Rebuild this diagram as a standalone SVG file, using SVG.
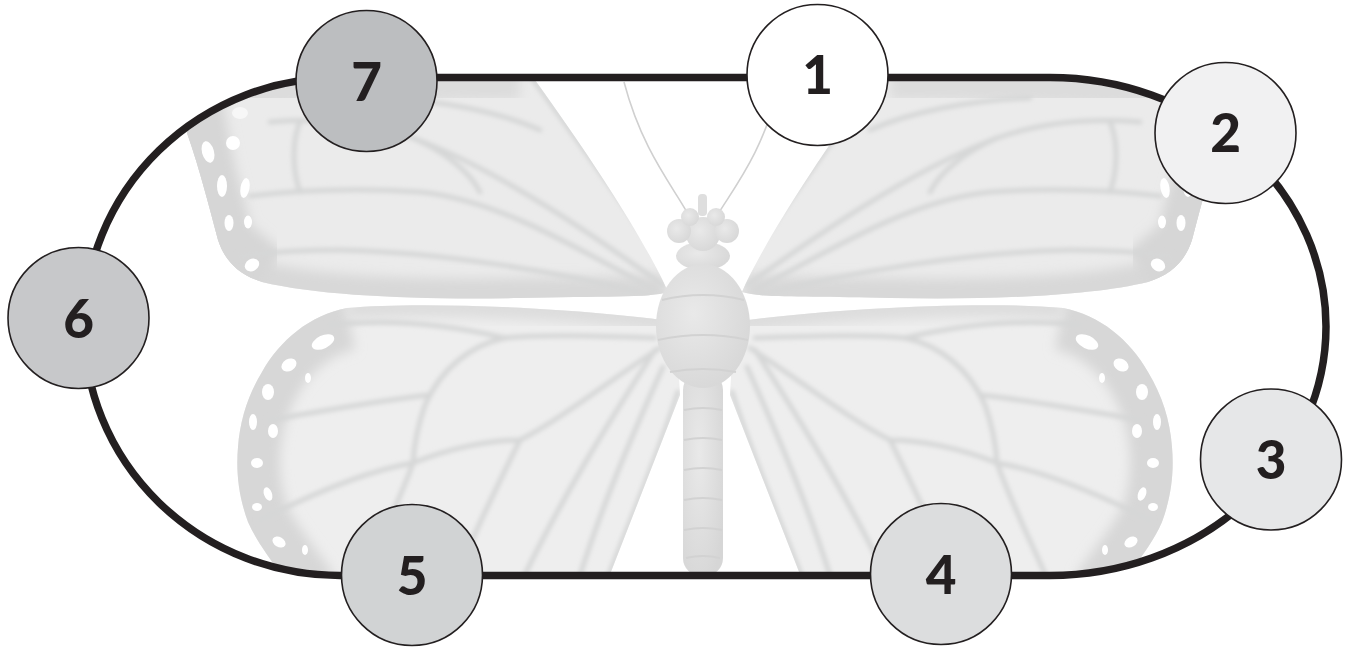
<svg xmlns="http://www.w3.org/2000/svg" width="1351" height="648" viewBox="0 0 1351 648">
<style>
.node circle{stroke:#231f20;stroke-width:1.6}
.node text{font-family:"Lato","Liberation Sans",sans-serif;font-weight:900;font-size:53px;fill:#231f20;text-anchor:middle}
.track{fill:none;stroke:#231f20;stroke-width:7.5}
.vein{fill:none;stroke:#d6d7d7;stroke-width:5;stroke-linecap:round}
.spot{fill:#ffffff}
.bd{fill:#dedede}
</style>
<defs>
<clipPath id="trackClip">
<path d="M340,77.5 H1050 A276,249 0 0 1 1050,575.5 H340 A256,249 0 0 1 340,77.5 Z"/>
</clipPath>
<filter id="soft" x="-10%" y="-10%" width="120%" height="120%"><feGaussianBlur stdDeviation="2"/></filter>
<filter id="softer" x="-20%" y="-20%" width="140%" height="140%"><feGaussianBlur stdDeviation="6"/></filter>
<clipPath id="fwClip"><path d="M668,292 C650,250 600,170 535,80 L520,40 L180,40 L187,133 C200,170 210,210 218,240 C225,262 240,275 262,282 C320,296 420,300 520,298 C600,296 650,298 668,292 Z"/></clipPath>
<clipPath id="hwClip"><path d="M676,322 C600,310 430,300 347,308 C310,315 280,340 262,372 C248,395 240,420 238,447 C236,470 238,495 248,522 C258,545 275,565 300,600 L600,600 L680,395 Z"/></clipPath>
<radialGradient id="bodyGrad" cx="0.4" cy="0.4" r="0.7">
<stop offset="0" stop-color="#e9e9e9"/><stop offset="1" stop-color="#d6d6d6"/>
</radialGradient>
<g id="leftWings">
 <!-- forewing -->
 <g clip-path="url(#fwClip)">
  <rect x="170" y="30" width="520" height="280" fill="#ebebeb"/>
  <path d="M187,60 L187,133 C200,170 210,210 218,240 C225,262 240,275 262,282 C320,296 420,300 520,298 C600,296 650,298 668,292" fill="none" stroke="#d8d8d8" stroke-width="40" filter="url(#softer)"/>
  <path d="M180,95 C260,88 400,82 520,82" fill="none" stroke="#dcdcdc" stroke-width="36" filter="url(#softer)"/>
  <path d="M187,100 L200,170 L220,245 L262,280" fill="none" stroke="#d6d6d6" stroke-width="70" filter="url(#softer)"/>
  <g filter="url(#soft)">
   <path class="vein" d="M668,268 C620,200 570,130 532,78" stroke-width="9"/>
   <path class="vein" d="M663,285 C600,240 500,170 413,138 C370,123 320,118 270,122"/>
   <path class="vein" d="M655,290 C580,250 500,200 420,192 C360,188 300,190 250,196"/>
   <path class="vein" d="M650,295 C560,272 440,252 340,250 C300,250 270,252 240,256"/>
   <path class="vein" d="M480,192 C470,172 445,152 413,138"/>
   <path class="vein" d="M300,122 C292,140 292,170 300,192"/>
   <path class="vein" d="M540,130 C500,112 440,100 380,98"/>
  </g>
  <ellipse class="spot" cx="208" cy="152" rx="6" ry="11" transform="rotate(-15 208 152)"/>
  <ellipse class="spot" cx="233" cy="143" rx="7" ry="7"/>
  <ellipse class="spot" cx="222" cy="186" rx="5" ry="11"/>
  <ellipse class="spot" cx="245" cy="188" rx="4.5" ry="10" transform="rotate(10 245 188)"/>
  <ellipse class="spot" cx="229" cy="223" rx="4.5" ry="8"/>
  <ellipse class="spot" cx="248" cy="222" rx="4" ry="6.5"/>
  <ellipse class="spot" cx="252" cy="265" rx="7.5" ry="6" transform="rotate(-30 252 265)"/>
  <ellipse class="spot" cx="240" cy="113" rx="8" ry="6" opacity="0.6"/>
 </g>
 <!-- hindwing -->
 <g clip-path="url(#hwClip)">
  <rect x="230" y="300" width="460" height="300" fill="#eeeeee"/>
  <path d="M347,308 C310,315 280,340 262,372 C248,395 240,420 238,447 C236,470 238,495 248,522 C258,545 275,565 300,600" fill="none" stroke="#d7d7d7" stroke-width="85" filter="url(#softer)"/>
  <path d="M676,322 C600,310 430,300 347,308" fill="none" stroke="#dddddd" stroke-width="24" filter="url(#softer)"/>
  <g filter="url(#soft)">
   <path class="vein" d="M655,338 C600,336 540,334 505,338 C470,345 440,370 425,405 C418,425 414,445 413,463"/>
   <path class="vein" d="M413,463 C450,448 490,440 520,440 C560,420 610,380 660,348"/>
   <path class="vein" d="M505,338 C450,325 390,318 330,325"/>
   <path class="vein" d="M430,395 C380,400 330,410 270,420"/>
   <path class="vein" d="M413,463 C370,470 320,490 260,520"/>
   <path class="vein" d="M413,463 C400,500 380,540 360,585"/>
   <path class="vein" d="M520,440 C500,480 475,530 453,585"/>
   <path class="vein" d="M655,350 C610,420 560,500 520,585"/>
   <path class="vein" d="M663,367 C630,440 600,510 577,585"/>
   <path class="vein" d="M678,392 C660,450 630,520 605,585"/>
  </g>
  <ellipse class="spot" cx="323" cy="342" rx="12" ry="6.5" transform="rotate(-25 323 342)"/>
  <ellipse class="spot" cx="289" cy="365" rx="8" ry="6" transform="rotate(-30 289 365)"/>
  <ellipse class="spot" cx="308" cy="378" rx="3" ry="5"/>
  <ellipse class="spot" cx="268" cy="392" rx="6" ry="8"/>
  <ellipse class="spot" cx="253" cy="422" rx="4" ry="8"/>
  <ellipse class="spot" cx="273" cy="431" rx="5" ry="7"/>
  <ellipse class="spot" cx="257" cy="463" rx="6" ry="5"/>
  <ellipse class="spot" cx="268" cy="494" rx="4" ry="7" transform="rotate(-20 268 494)"/>
  <ellipse class="spot" cx="257" cy="507" rx="5" ry="4"/>
  <ellipse class="spot" cx="279" cy="542" rx="7" ry="5" transform="rotate(30 279 542)"/>
  <ellipse class="spot" cx="305" cy="550" rx="3" ry="5"/>
 </g>
</g>
</defs>
<rect width="1351" height="648" fill="#ffffff"/>
<g id="butterfly" clip-path="url(#trackClip)">
 <use href="#leftWings"/>
 <use href="#leftWings" transform="translate(1410,0) scale(-1,1)"/>
 <g id="body">
  <path d="M688,214 C672,185 642,150 624,82" fill="none" stroke="#d0d0d0" stroke-width="1.6"/>
  <path d="M718,214 C736,185 764,150 780,82" fill="none" stroke="#d0d0d0" stroke-width="1.6"/>
  <rect class="bd" x="698" y="194" width="9" height="22" rx="4"/>
  <ellipse fill="url(#bodyGrad)" cx="703" cy="256" rx="27" ry="14"/>
  <circle fill="url(#bodyGrad)" cx="703" cy="234" r="17"/>
  <circle fill="url(#bodyGrad)" cx="679" cy="231" r="12"/>
  <circle fill="url(#bodyGrad)" cx="727" cy="231" r="12"/>
  <circle fill="url(#bodyGrad)" cx="690" cy="217" r="9"/>
  <circle fill="url(#bodyGrad)" cx="716" cy="217" r="9"/>
  <rect fill="url(#bodyGrad)" x="683" y="372" width="40" height="204" rx="18"/>
  <ellipse fill="url(#bodyGrad)" cx="703" cy="326" rx="47" ry="62"/>
  <g stroke="#d2d2d2" stroke-width="2" fill="none">
   <path d="M662,300 Q703,290 744,300"/>
   <path d="M658,340 Q703,330 748,340"/>
   <path d="M670,372 Q703,366 736,372"/>
   <path d="M684,410 Q703,406 722,410"/>
   <path d="M684,440 Q703,436 722,440"/>
   <path d="M684,470 Q703,466 722,470"/>
   <path d="M684,500 Q703,496 722,500"/>
   <path d="M684,530 Q703,526 722,530"/>
   <path d="M686,558 Q703,554 720,558"/>
  </g>
 </g>
</g>
<g id="connectors">
 <path class="track" d="M340,77.5 H1050 A276,249 0 0 1 1050,575.5 H340 A256,249 0 0 1 340,77.5 Z"/>
</g>
<g id="node1" class="node"><circle cx="817.5" cy="75" r="70.5" fill="#ffffff"/><text x="817.5" y="94">1</text></g>
<g id="node2" class="node"><circle cx="1225.5" cy="133" r="70.5" fill="#f1f1f2"/><text x="1225.5" y="152">2</text></g>
<g id="node3" class="node"><circle cx="1271" cy="459.5" r="70.5" fill="#e6e7e8"/><text x="1271" y="479">3</text></g>
<g id="node4" class="node"><circle cx="941" cy="574" r="70.5" fill="#dcddde"/><text x="941" y="594">4</text></g>
<g id="node5" class="node"><circle cx="412" cy="575" r="70.5" fill="#d1d3d4"/><text x="412" y="595">5</text></g>
<g id="node6" class="node"><circle cx="78.5" cy="318" r="70.5" fill="#c7c8ca"/><text x="78.5" y="338">6</text></g>
<g id="node7" class="node"><circle cx="366.5" cy="81" r="70.5" fill="#bcbec0"/><text x="366.5" y="101">7</text></g>
</svg>
